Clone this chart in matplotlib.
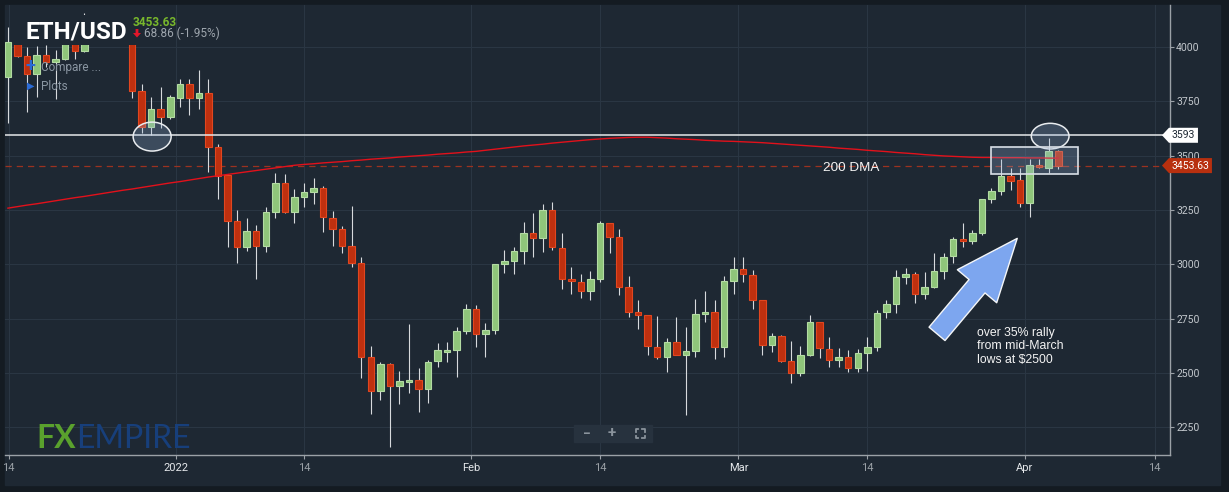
import numpy as np
import matplotlib
matplotlib.use("Agg")
import matplotlib.pyplot as plt
import matplotlib.patches as mpatches
from matplotlib import transforms
from matplotlib.lines import Line2D

plt.rcParams['font.family'] = ['Roboto', 'DejaVu Sans']

W, H = 1229, 492

# -------- daily ETH/USD candles (oldest first) -----------------------------
opens = [3862, 4040, 3957, 3877, 3962, 3928, 3946, 4040, 3982, 4060,
         4100, 4060, 4110, 4050, 3796, 3632, 3714, 3678, 3766, 3831,
         3766, 3786, 3537, 3410, 3197, 3081, 3153, 3085, 3242, 3372,
         3242, 3311, 3330, 3349, 3211, 3160, 3085, 3004, 2572, 2417,
         2540, 2442, 2458, 2468, 2428, 2554, 2595, 2604, 2692, 2793,
         2681, 2699, 3000, 3017, 3059, 3142, 3119, 3248, 3073, 2931,
         2917, 2876, 2934, 3188, 3124, 2894, 2779, 2765, 2621, 2572,
         2641, 2582, 2600, 2770, 2779, 2618, 2922, 2977, 2949, 2834,
         2627, 2669, 2554, 2499, 2582, 2733, 2609, 2560, 2572, 2522,
         2591, 2618, 2779, 2816, 2943, 2954, 2862, 2897, 2971, 3038,
         3115, 3106, 3145, 3298, 3335, 3406, 3387, 3283, 3455, 3444,
         3521]
highs = [4092, 4060, 4000, 4005, 4010, 3985, 4040, 4060, 4155, 4120,
         4130, 4140, 4130, 4080, 3828, 3770, 3813, 3778, 3854, 3850,
         3893, 3850, 3551, 3417, 3249, 3211, 3180, 3265, 3418, 3415,
         3344, 3372, 3395, 3360, 3246, 3176, 3269, 3035, 2626, 2549,
         2545, 2509, 2726, 2522, 2560, 2637, 2641, 2710, 2816, 2811,
         2729, 3002, 3066, 3078, 3193, 3234, 3276, 3285, 3142, 2986,
         2954, 2968, 3199, 3190, 3162, 2946, 2834, 2768, 2762, 2663,
         2756, 2710, 2839, 2876, 2834, 2945, 3035, 3035, 2972, 2836,
         2683, 2673, 2646, 2623, 2765, 2735, 2667, 2614, 2606, 2609,
         2667, 2790, 2836, 2974, 2981, 2963, 2963, 3050, 3050, 3127,
         3191, 3158, 3298, 3349, 3482, 3444, 3444, 3482, 3482, 3579,
         3525]
lows = [3651, 3951, 3701, 3770, 3908, 3758, 3940, 3946, 3975, 4030,
        4040, 4030, 4050, 3763, 3604, 3594, 3625, 3670, 3721, 3684,
        3715, 3426, 3300, 3081, 3004, 3061, 2931, 3055, 3211, 3235,
        3191, 3265, 3277, 3147, 3085, 3050, 2989, 2476, 2310, 2376,
        2162, 2356, 2407, 2320, 2361, 2526, 2549, 2480, 2678, 2618,
        2575, 2678, 2961, 2954, 3000, 3032, 3058, 3066, 2885, 2862,
        2844, 2836, 2917, 3050, 2857, 2756, 2701, 2582, 2563, 2503,
        2582, 2306, 2575, 2733, 2563, 2572, 2865, 2917, 2793, 2582,
        2595, 2550, 2453, 2488, 2577, 2568, 2529, 2529, 2503, 2506,
        2511, 2603, 2752, 2774, 2908, 2824, 2839, 2889, 2931, 3007,
        3081, 3093, 3134, 3280, 3320, 3341, 3265, 3216, 3441, 3421,
        3440]
closes = [4020, 3959, 3877, 3962, 3928, 3946, 4015, 3982, 4060, 4100,
          4060, 4110, 4070, 3796, 3632, 3714, 3678, 3767, 3831, 3766,
          3786, 3537, 3407, 3197, 3081, 3153, 3085, 3239, 3372, 3242,
          3311, 3330, 3349, 3216, 3164, 3085, 3004, 2572, 2417, 2540,
          2442, 2463, 2468, 2428, 2551, 2604, 2606, 2692, 2793, 2681,
          2696, 3000, 3014, 3059, 3142, 3119, 3248, 3078, 2931, 2922,
          2876, 2931, 3188, 3127, 2897, 2782, 2765, 2626, 2572, 2641,
          2582, 2600, 2770, 2779, 2618, 2922, 2977, 2954, 2834, 2627,
          2669, 2554, 2499, 2582, 2733, 2614, 2560, 2572, 2522, 2591,
          2618, 2775, 2816, 2940, 2955, 2862, 2894, 2971, 3035, 3115,
          3106, 3145, 3298, 3335, 3406, 3384, 3283, 3456, 3446, 3521,
          3454]
dma200 = [3258, 3265, 3272, 3278, 3285, 3292, 3299, 3306, 3312, 3319,
          3326, 3333, 3340, 3346, 3353, 3360, 3367, 3374, 3380, 3387,
          3394, 3401, 3407, 3413, 3419, 3425, 3431, 3437, 3443, 3449,
          3455, 3459, 3462, 3466, 3469, 3472, 3476, 3479, 3483, 3486,
          3489, 3493, 3496, 3499, 3502, 3506, 3509, 3512, 3516, 3519,
          3524, 3529, 3534, 3539, 3544, 3548, 3552, 3557, 3561, 3565,
          3569, 3573, 3576, 3579, 3581, 3583, 3584, 3584, 3582, 3580,
          3577, 3575, 3573, 3570, 3568, 3566, 3565, 3563, 3561, 3559,
          3556, 3553, 3550, 3547, 3544, 3541, 3538, 3534, 3531, 3528,
          3524, 3521, 3518, 3514, 3511, 3508, 3504, 3501, 3498, 3496,
          3494, 3492, 3491, 3491, 3490, 3490, 3490, 3489, 3489, 3488,
          3488]

tick_labels = ["14", "2022", "14", "Feb", "14", "Mar", "14", "Apr", "14"]
price_ticks = [2250, 2500, 2750, 3000, 3250, 3500, 3750, 4000]
resistance = 3593
last_price = 3453.63
change_txt = "68.86 (-1.95%)"

assert len(opens) == len(highs) == len(lows) == len(closes) == len(dma200)

# -------- layout / style ----------
tick_pos = [0.07, 17.55, 31.0, 48.5, 62.0, 76.5, 90.0, 106.5, 120.1]  # candle index units
BG = "#1e2833"
FRAME = "#141b22"
GRID = "#2a3643"
AXIS = "#9ba1a7"
UP, UP_EDGE = "#8fc57a", "#b3dba3"
DN, DN_EDGE = "#bf300f", "#e2461f"
WICK = "#d7dadd"


def fx(px):
    return px / W


def fy(py):
    return 1 - py / H


fig = plt.figure(figsize=(W / 100, H / 100), dpi=100, facecolor=FRAME)
fig.patches.append(mpatches.Rectangle((fx(5), fy(485)), fx(1220) - fx(5), fy(5) - fy(485),
                                      transform=fig.transFigure, color=BG, zorder=-5))
ax = fig.add_axes([fx(5), fy(455), fx(1170) - fx(5), fy(5) - fy(455)])
ax.set_facecolor(BG)

o = np.array(opens, float)
h = np.array(highs, float)
l = np.array(lows, float)
c = np.array(closes, float)
x = np.arange(len(o))
up = c >= o

# candles
ax.vlines(x, l, h, color=WICK, lw=0.8, zorder=3)
ax.bar(x, np.maximum(np.abs(c - o), 4), bottom=np.minimum(o, c), width=0.68,
       color=np.where(up, UP, DN), edgecolor=np.where(up, UP_EDGE, DN_EDGE),
       linewidth=0.8, zorder=4)

# 200 DMA, resistance, last price
ax.plot(x, dma200, color="#e3111b", lw=1.0, zorder=5)
ax.axhline(resistance, color="#e6e8ea", lw=1.1, zorder=5)
ax.axhline(last_price, color="#9c3220", lw=0.9, ls=(0, (5, 4)), zorder=2)

# header area hides candle tops
ax.add_patch(mpatches.Rectangle((0.52, 4008), 13.3, 140, color=BG, lw=0, zorder=6))

# highlight shapes
shape_fc = (0.59, 0.71, 0.86, 0.25)
ax.add_patch(mpatches.Ellipse((15.1, 3587), 3.98, 133, fc=shape_fc, ec="#e9ecef", lw=1.1, zorder=7))
ax.add_patch(mpatches.Ellipse((109.15, 3589), 3.95, 118, fc=shape_fc, ec="#e9ecef", lw=1.1, zorder=7))
ax.add_patch(mpatches.Rectangle((103.0, 3413.5), 9.1, 126.5, fc=shape_fc, ec="#d9dfe6", lw=1.2, zorder=7))

ax.text(88.3, 3442, "200 DMA", ha="center", va="center", color="#f4f4f4",
        fontsize=9.7, family="Liberation Sans", zorder=8)
ax.text(101.5, 2713, "over 35% rally\nfrom mid-March\nlows at $2500", ha="left", va="top",
        color="#f4f4f4", fontsize=8.8, family="Liberation Sans", linespacing=1.2, zorder=8)
ax.annotate("", xy=(105.7, 3119), xytext=(97.3, 2680),
            arrowprops=dict(arrowstyle="simple,head_length=4.5,head_width=3.7,tail_width=1.5",
                            mutation_scale=10, fc="#7da6ef", ec="#f4f6f8", lw=1.0,
                            shrinkA=0, shrinkB=0), zorder=8)

# axes cosmetics
ax.set_xlim(-0.31, 121.7)
ax.set_ylim(2123, 4192)
ax.set_xticks(tick_pos)
ax.set_xticklabels(tick_labels)
ax.set_yticks(price_ticks)
ax.yaxis.tick_right()
ax.grid(color=GRID, lw=0.8)
ax.set_axisbelow(True)
for s in ["left", "top"]:
    ax.spines[s].set_visible(False)
for s in ["bottom", "right"]:
    ax.spines[s].set_color(AXIS)
    ax.spines[s].set_linewidth(1.0)
ax.tick_params(axis="y", colors=AXIS, labelcolor="#c3c8cd", labelsize=7.5, length=3, pad=1.5)
ax.tick_params(axis="x", colors=AXIS, labelsize=8, length=3, pad=3)
for lab in ax.get_xticklabels():
    lab.set_color("#9aa0a6" if lab.get_text() == "14" else "#e4e7ea")

# price tags on the right axis
bt = transforms.blended_transform_factory(ax.transAxes, ax.transData)
half = 34.5
for price, right, fc, tc, txt in [(resistance, 1.024, "white", BG, "3593"),
                                  (last_price, 1.036, "#b8300f", "white", f"{last_price:.2f}")]:
    pts = [(0.9931, price), (0.9991, price + half), (right, price + half),
           (right, price - half), (0.9991, price - half)]
    ax.add_patch(mpatches.Polygon(pts, closed=True, fc=fc, ec="none", transform=bt,
                                  clip_on=False, zorder=10))
    ax.text((0.9991 + right) / 2, price, txt, transform=bt, ha="center", va="center",
            color=tc, fontsize=7.5, zorder=11, clip_on=False)

# header
fig.text(fx(26), fy(38), "ETH/USD", fontsize=17.5, fontweight="bold", color="white", va="baseline")
fig.text(fx(133), fy(26), f"{last_price:.2f}", fontsize=8.5, fontweight="bold", color="#78b72c", va="baseline")
arrow_px = [(135.6, 29), (138.4, 29), (138.4, 33), (141, 33), (137, 37.5), (133, 33), (135.6, 33)]
fig.patches.append(mpatches.Polygon([(fx(a), fy(b)) for a, b in arrow_px], closed=True,
                                    transform=fig.transFigure, fc="#e4162a", ec="none"))
fig.text(fx(144), fy(37), change_txt, fontsize=8.5, color="#9ea6ae", va="baseline")
fig.text(fx(30), fy(66.5), "+", fontsize=13, fontweight="bold", color="#2b6bd6", ha="center", va="center")
fig.text(fx(41), fy(71), "Compare ...", fontsize=8.5, color="#8a96a2", va="baseline")
fig.text(fx(30.5), fy(86), "\u25B6", fontsize=7, color="#2b6bd6", ha="center", va="center", family="DejaVu Sans")
fig.text(fx(41), fy(90), "Plots", fontsize=8.5, color="#8a96a2", va="baseline")

# logo
fig.text(fx(36), fy(448), "FX", fontsize=23, fontweight="bold", color="#5aa12d", family="Lato", va="baseline")
fig.text(fx(76), fy(448), "EMPIRE", fontsize=23, color="#173f7b", family="Lato", va="baseline")

# zoom buttons
fig.patches.append(mpatches.Rectangle((fx(574), fy(442)), fx(652) - fx(574), fy(425) - fy(442),
                                      transform=fig.transFigure, color="#27323e", zorder=5))
fig.text(fx(587), fy(433.5), "\u2212", fontsize=10, fontweight="bold", color="#8a939c",
         ha="center", va="center", zorder=6)
fig.text(fx(612), fy(433.5), "+", fontsize=11, fontweight="bold", color="#8a939c",
         ha="center", va="center", zorder=6)
cx, cy, r, k = 640, 433.5, 4.5, 2.5
for sx in (-1, 1):
    for sy in (-1, 1):
        xs = [cx + sx * r, cx + sx * r, cx + sx * (r - k)]
        ys = [cy + sy * (r - k), cy + sy * r, cy + sy * r]
        fig.add_artist(Line2D([fx(v) for v in xs], [fy(v) for v in ys], transform=fig.transFigure,
                              color="#8a939c", lw=1.3, zorder=6))

fig.savefig("out.png", dpi=100, facecolor=FRAME)
